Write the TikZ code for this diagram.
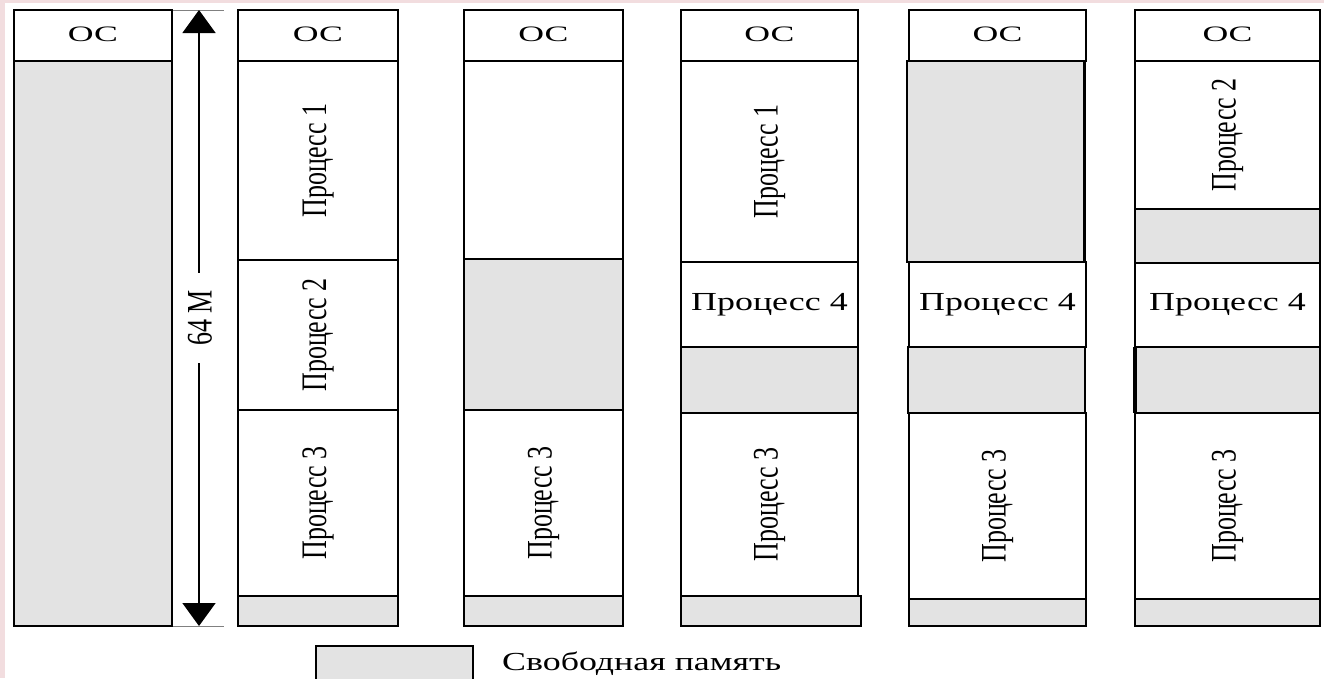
\documentclass[tikz,border=0pt]{standalone}
\usepackage{fontspec}
\setmainfont{Liberation Serif}
\usepackage{graphicx}
\usetikzlibrary{arrows.meta}
\definecolor{pinkbg}{RGB}{242,221,223}
\definecolor{freegray}{RGB}{227,227,227}
\newcommand{\vtxt}[1]{\rotatebox{90}{\scalebox{1}[1.38]{#1}}}
\newcommand{\htxt}[1]{\scalebox{1.38}[1]{#1}}
\newcommand{\ostxt}{\raisebox{3pt}{\scalebox{1.7}[1.05]{ОС}}}
\tikzset{
  seg/.style={draw=black, line width=1.6pt, fill=white, inner sep=0pt, outer sep=0pt, anchor=north west,
    font=\fontsize{26}{26}\selectfont},
  free/.style={seg, fill=freegray},
  osbox/.style={seg, font=\fontsize{21}{21}\selectfont},
}
\begin{document}
\begin{tikzpicture}[x=1pt,y=-1pt]
\fill[pinkbg] (0,0) rectangle (1324,678);
\fill[white] (5,3) rectangle (1324,678);
\useasboundingbox (0,0) rectangle (1324,678);
% column 1
\node[osbox, minimum width=158pt, minimum height=51pt] (a0) at (14,10) {\ostxt};
\node[free, minimum width=158pt, minimum height=565pt, line width=2.4pt] (a1) at (14,61) {};
% arrow
\coordinate (atop) at (199,10);
\coordinate (abot) at (199,626);
\draw[line width=0.8pt, gray] (173,10) -- (224,10);
\draw[line width=0.8pt, gray] (173,626) -- (224,626);
\draw[line width=1.6pt, {Triangle[width=33pt,length=23pt]}-{Triangle[width=33pt,length=23pt]}] (atop) -- (abot);
\node[fill=white, inner sep=0pt, minimum height=90pt, font=\fontsize{26}{26}\selectfont] (lbl) at (200,318) {\vtxt{64 М}};
% column 2
\node[osbox, minimum width=160pt, minimum height=51pt] (b0) at (238,10) {\ostxt};
\node[seg, minimum width=160pt, minimum height=199pt] (b1) at (238,61) {\vtxt{Процесс 1}};
\node[seg, minimum width=160pt, minimum height=150pt] (b2) at (238,260) {\vtxt{Процесс 2}};
\node[seg, minimum width=160pt, minimum height=186pt] (b3) at (238,410) {\vtxt{Процесс 3}};
\node[free, minimum width=160pt, minimum height=30pt] (b4) at (238,596) {};
% column 3
\node[osbox, minimum width=159pt, minimum height=51pt] (c0) at (464,10) {\ostxt};
\node[seg, minimum width=159pt, minimum height=198pt] (c1) at (464,61) {};
\node[free, minimum width=159pt, minimum height=151pt] (c2) at (464,259) {};
\node[seg, minimum width=159pt, minimum height=186pt] (c3) at (464,410) {\vtxt{Процесс 3}};
\node[free, minimum width=159pt, minimum height=30pt] (c4) at (464,596) {};
% column 4
\node[osbox, minimum width=177pt, minimum height=51pt] (d0) at (681,10) {\ostxt};
\node[seg, minimum width=177pt, minimum height=201pt] (d1) at (681,61) {\vtxt{Процесс 1}};
\node[seg, minimum width=177pt, minimum height=85pt] (d2) at (681,262) {\htxt{Процесс 4}};
\node[free, minimum width=177pt, minimum height=66pt] (d3) at (681,347) {};
\node[seg, minimum width=177pt, minimum height=183pt] (d4) at (681,413) {\vtxt{Процесс 3}};
\node[free, minimum width=180pt, minimum height=30pt] (d5) at (681,596) {};
% column 5
\node[osbox, minimum width=177pt, minimum height=51pt] (e0) at (909,10) {\ostxt};
\node[free, minimum width=177pt, minimum height=201pt] (e1) at (907,61) {};
\draw[line width=3pt] (e1.north east) -- (e1.south east);
\node[seg, minimum width=177pt, minimum height=85pt] (e2) at (909,262) {\htxt{Процесс 4}};
\node[free, minimum width=177pt, minimum height=66pt] (e3) at (908,347) {};
\node[seg, minimum width=177pt, minimum height=186pt] (e4) at (909,413) {\vtxt{Процесс 3}};
\node[free, minimum width=177pt, minimum height=27pt] (e5) at (909,599) {};
% column 6
\node[osbox, minimum width=185pt, minimum height=51pt] (f0) at (1135,10) {\ostxt};
\node[seg, minimum width=185pt, minimum height=148pt] (f1) at (1135,61) {\vtxt{Процесс 2}};
\node[free, minimum width=185pt, minimum height=54pt] (f2) at (1135,209) {};
\node[seg, minimum width=185pt, minimum height=84pt] (f3) at (1135,263) {\htxt{Процесс 4}};
\node[free, minimum width=185pt, minimum height=66pt] (f4) at (1135,347) {};
\draw[line width=3.5pt] (f4.north west) -- (f4.south west);
\node[seg, minimum width=185pt, minimum height=186pt] (f5) at (1135,413) {\vtxt{Процесс 3}};
\node[free, minimum width=185pt, minimum height=27pt] (f6) at (1135,599) {};
% legend
\node[free, minimum width=157pt, minimum height=50pt] (lg) at (316,646) {};
\node[anchor=base west, inner sep=0pt, font=\fontsize{26}{26}\selectfont] (lgt) at (502,670) {\htxt{Свободная память}};
\end{tikzpicture}
\end{document}
